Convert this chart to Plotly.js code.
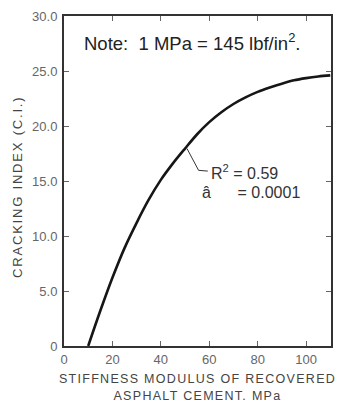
<!DOCTYPE html>
<html>
<head>
<meta charset="utf-8">
<script src="https://cdn.plot.ly/plotly-3.0.1.min.js"></script>
<style>
html,body{margin:0;padding:0;background:#fff;}
#chart{width:338px;height:403px;}
.xtitle{letter-spacing:1.3px;}
.annotation[data-index="3"] text{letter-spacing:1.8px;}
</style>
</head>
<body>
<div id="chart"></div>
<script>
const stiffness = [10, 15, 20, 25, 30, 35, 40, 45, 50, 55, 60, 65, 70, 75, 80, 85, 90, 95, 100, 105, 110];
const crackingIndex = [0, 3.2, 6.2, 8.9, 11.2, 13.3, 15.1, 16.6, 17.95, 19.25, 20.35, 21.25, 22.0, 22.6, 23.1, 23.5, 23.85, 24.15, 24.35, 24.5, 24.6];
const yTickVals = [0, 5, 10, 15, 20, 25, 30];
const yTickText = ['0', '5.0', '10.0', '15.0', '20.0', '25.0', '30.0'];
const xTickVals = [0, 20, 40, 60, 80, 100];
const xTickText = ['0', '20', '40', '60', '80', '100'];
const yTitle = 'CRACKING INDEX (C.I.)';
const xTitle = 'STIFFNESS MODULUS OF RECOVERED<br>ASPHALT CEMENT. MPa';

const fontFam = 'Liberation Sans, Arial, sans-serif';
const nb = '\u00A0';
const trace = {
  x: stiffness, y: crackingIndex, mode: 'lines', type: 'scatter',
  line: {color: '#161616', width: 2.6, shape: 'spline', smoothing: 1},
  hoverinfo: 'skip', showlegend: false
};
const layout = {
  width: 338, height: 403,
  margin: {l: 64, r: 7, t: 16, b: 57},
  paper_bgcolor: '#fff', plot_bgcolor: '#fff',
  font: {family: fontFam, color: '#555'},
  xaxis: {
    range: [0, 110.3], tickvals: xTickVals, ticktext: xTickText,
    ticks: 'inside', ticklen: 5, tickwidth: 1, tickcolor: '#666',
    showline: true, linecolor: '#333', linewidth: 2, mirror: 'ticks',
    showgrid: false, zeroline: false,
    tickfont: {size: 13, color: '#666'},
    title: {text: xTitle, font: {size: 12.5, color: '#444'}, standoff: 9},
    automargin: false, fixedrange: true
  },
  yaxis: {
    range: [0, 30], tickvals: yTickVals, ticktext: yTickText,
    ticks: 'inside', ticklen: 5, tickwidth: 1, tickcolor: '#666',
    showline: true, linecolor: '#333', linewidth: 2, mirror: 'ticks',
    showgrid: false, zeroline: false,
    tickfont: {size: 13, color: '#666'},
    ticklabelstandoff: 2,
    automargin: false, fixedrange: true
  },
  shapes: [{
    type: 'path', xref: 'x', yref: 'y',
    path: 'M 50.8,17.95 L 55.6,15.97 L 59.4,15.9',
    line: {color: '#333', width: 1}
  }],
  annotations: [
    {x: 7.6, y: 27.65, xref: 'x', yref: 'y', xanchor: 'left', yanchor: 'middle', showarrow: false,
     text: 'Note:  1 MPa = 145 lbf/in<sup>2</sup>.', font: {size: 18.5, color: '#222', family: fontFam}},
    {x: 60.0, y: 15.85, xref: 'x', yref: 'y', xanchor: 'left', yanchor: 'middle', showarrow: false,
     text: 'R<sup>2</sup> = 0.59', font: {size: 16, color: '#333', family: fontFam}},
    {x: 56.3, y: 13.95, xref: 'x', yref: 'y', xanchor: 'left', yanchor: 'middle', showarrow: false,
     text: 'â' + nb.repeat(6) + '= 0.0001', font: {size: 16, color: '#333', family: fontFam}},
    {x: -0.172, y: 0.482, xref: 'paper', yref: 'paper', xanchor: 'center', yanchor: 'middle', showarrow: false,
     textangle: -90, text: yTitle, font: {size: 13, color: '#444', family: fontFam}}
  ]
};
Plotly.newPlot('chart', [trace], layout, {staticPlot: true, displayModeBar: false});
</script>
</body>
</html>
